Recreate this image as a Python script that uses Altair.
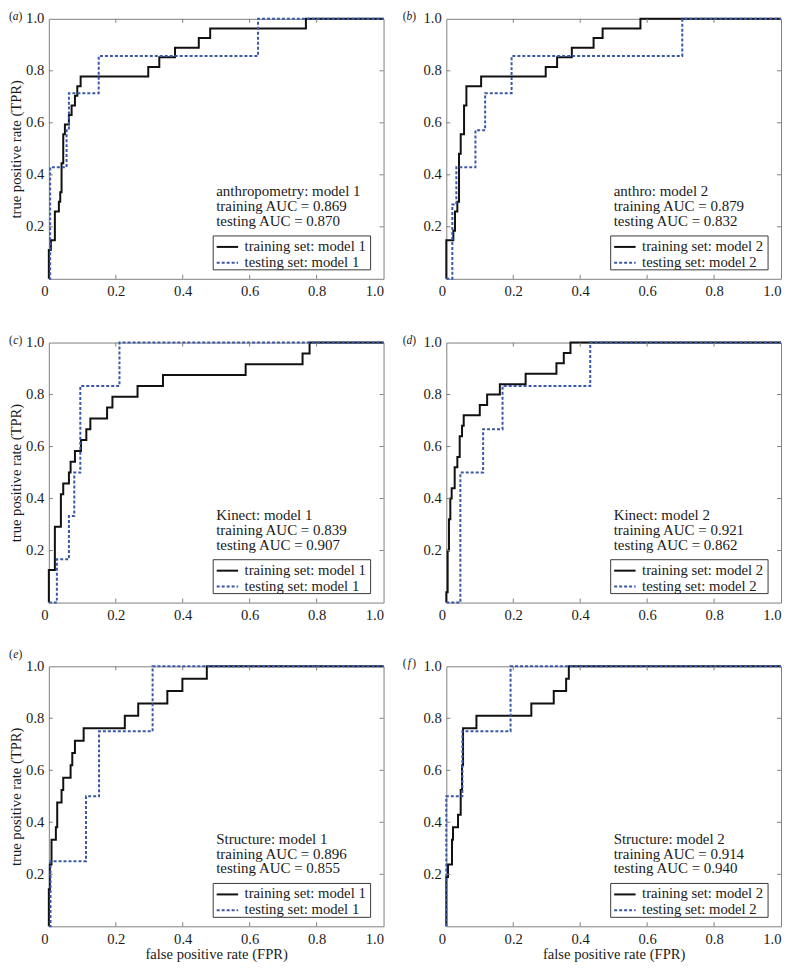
import altair as alt
import pandas as pd

FONT = "Liberation Serif, Times New Roman, serif"
TEXT_COLOR = "#1a1a1a"
FRAME_COLOR = "#7f7f7f"
TRAIN_COLOR = "#111111"
TEST_COLOR = "#3a58a6"

W, H = 336, 261

PANEL_LETTERS = ["a", "b", "c", "d", "e", "f"]
PANEL_NAMES = ["anthropometry: model 1", "anthro: model 2", "Kinect: model 1",
               "Kinect: model 2", "Structure: model 1", "Structure: model 2"]
MODEL_NUMBERS = [1, 2, 1, 2, 1, 2]
TRAIN_AUC = ["0.869", "0.879", "0.839", "0.921", "0.896", "0.914"]
TEST_AUC = ["0.870", "0.832", "0.907", "0.862", "0.855", "0.940"]

X_TICKS = [0, 0.2, 0.4, 0.6, 0.8, 1.0]
Y_TICKS = [0.2, 0.4, 0.6, 0.8, 1.0]
INNER_TICKS = [0.2, 0.4, 0.6, 0.8]

# ROC step vertices (FPR where TPR rises, TPR after the rise)
A_TRAIN_FPR = [0, 0, 0.006, 0.018, 0.030, 0.034, 0.038, 0.043, 0.048, 0.060, 0.068, 0.078, 0.085, 0.095, 0.297, 0.330, 0.377, 0.448, 0.482, 0.768, 1.0]
A_TRAIN_TPR = [0, 0.111, 0.148, 0.259, 0.296, 0.333, 0.444, 0.556, 0.593, 0.630, 0.667, 0.704, 0.741, 0.778, 0.815, 0.852, 0.889, 0.926, 0.963, 1.0, 1.0]
A_TEST_FPR = [0, 0.004, 0.053, 0.060, 0.149, 0.625, 1.0]
A_TEST_TPR = [0, 0.429, 0.571, 0.714, 0.857, 1.0, 1.0]

B_TRAIN_FPR = [0, 0, 0.021, 0.026, 0.033, 0.038, 0.043, 0.053, 0.060, 0.104, 0.297, 0.331, 0.375, 0.440, 0.467, 0.580, 1.0]
B_TRAIN_TPR = [0, 0.148, 0.185, 0.259, 0.296, 0.481, 0.556, 0.667, 0.741, 0.778, 0.815, 0.852, 0.889, 0.926, 0.963, 1.0, 1.0]
B_TEST_FPR = [0, 0.018, 0.030, 0.087, 0.116, 0.195, 0.705, 1.0]
B_TEST_TPR = [0, 0.286, 0.429, 0.571, 0.714, 0.857, 1.0, 1.0]

C_TRAIN_FPR = [0, 0, 0.018, 0.036, 0.043, 0.060, 0.065, 0.078, 0.096, 0.112, 0.124, 0.174, 0.190, 0.265, 0.341, 0.588, 0.758, 0.779, 1.0]
C_TRAIN_TPR = [0, 0.125, 0.292, 0.417, 0.458, 0.500, 0.542, 0.583, 0.625, 0.667, 0.708, 0.750, 0.792, 0.833, 0.875, 0.917, 0.958, 1.0, 1.0]
C_TEST_FPR = [0, 0.024, 0.060, 0.076, 0.094, 0.211, 1.0]
C_TEST_TPR = [0, 0.167, 0.333, 0.500, 0.833, 1.0, 1.0]

D_TRAIN_FPR = [0, 0, 0.004, 0.008, 0.012, 0.016, 0.025, 0.033, 0.040, 0.047, 0.052, 0.100, 0.122, 0.160, 0.237, 0.329, 0.351, 0.371, 1.0]
D_TRAIN_TPR = [0, 0.04, 0.20, 0.32, 0.40, 0.44, 0.52, 0.56, 0.64, 0.68, 0.72, 0.76, 0.80, 0.84, 0.88, 0.92, 0.96, 1.0, 1.0]
D_TEST_FPR = [0, 0.042, 0.110, 0.168, 0.430, 1.0]
D_TEST_TPR = [0, 0.500, 0.667, 0.833, 1.0, 1.0]

E_TRAIN_FPR = [0, 0, 0.003, 0.008, 0.021, 0.025, 0.038, 0.043, 0.065, 0.070, 0.078, 0.104, 0.227, 0.267, 0.354, 0.399, 0.472, 1.0]
E_TRAIN_TPR = [0, 0.143, 0.238, 0.333, 0.381, 0.476, 0.524, 0.571, 0.619, 0.667, 0.714, 0.762, 0.810, 0.857, 0.905, 0.952, 1.0, 1.0]
E_TEST_FPR = [0, 0.005, 0.111, 0.150, 0.310, 1.0]
E_TEST_TPR = [0, 0.25, 0.50, 0.75, 1.0, 1.0]

F_TRAIN_FPR = [0, 0, 0.005, 0.017, 0.020, 0.035, 0.043, 0.047, 0.050, 0.090, 0.254, 0.321, 0.358, 0.366, 1.0]
F_TRAIN_TPR = [0, 0.190, 0.238, 0.333, 0.381, 0.429, 0.524, 0.619, 0.762, 0.810, 0.857, 0.905, 0.952, 1.0, 1.0]
F_TEST_FPR = [0, 0, 0.048, 0.192, 1.0]
F_TEST_TPR = [0, 0.5, 0.75, 1.0, 1.0]

TRAIN_FPR = [A_TRAIN_FPR, B_TRAIN_FPR, C_TRAIN_FPR, D_TRAIN_FPR, E_TRAIN_FPR, F_TRAIN_FPR]
TRAIN_TPR = [A_TRAIN_TPR, B_TRAIN_TPR, C_TRAIN_TPR, D_TRAIN_TPR, E_TRAIN_TPR, F_TRAIN_TPR]
TEST_FPR = [A_TEST_FPR, B_TEST_FPR, C_TEST_FPR, D_TEST_FPR, E_TEST_FPR, F_TEST_FPR]
TEST_TPR = [A_TEST_TPR, B_TEST_TPR, C_TEST_TPR, D_TEST_TPR, E_TEST_TPR, F_TEST_TPR]

# style / placement constants (pixels, relative to each plot area)
LETTER_DY = [-2.25, -2.25, -2, -2, -11.5, -2]
LETTER_CX = [-33.3, -37]
ANNOT_X = 0.5 * W
ANNOT_Y = 178
BOX_X1, BOX_X2 = 165, 323
BOX_Y1, BOX_Y2 = H - 43, H - 9
ROW1_Y, ROW2_Y = H - 32, H - 16
SAMPLE_X1, SAMPLE_X2 = 168.5, 190
LABEL_X = 196.5
FS_AXIS = 14.7
FS_ANNOT = 15
FS_LEG = 14.75

one = pd.DataFrame({"k": [0]})


def make_panel(i):
    col, row = i % 2, i // 2
    xscale = alt.Scale(domain=[0, 1], nice=False, zero=False)
    yscale = alt.Scale(domain=[0, 1], nice=False, zero=False)
    x_axis = alt.Axis(
        values=X_TICKS,
        labelExpr="datum.value == 0 ? '0' : format(datum.value, '.1f')",
        labelOffset={"condition": {"test": "datum.value == 0", "value": -8}, "value": 0},
        labelPadding=5,
        titlePadding=1,
        title=("false positive rate (FPR)" if row == 2 else None),
    )
    y_axis = alt.Axis(
        values=Y_TICKS,
        format=".1f",
        labelPadding=5,
        titlePadding=2,
        title=("true positive rate (TPR)" if col == 0 else None),
    )

    train_df = pd.DataFrame({"fpr": TRAIN_FPR[i], "tpr": TRAIN_TPR[i],
                             "idx": list(range(len(TRAIN_FPR[i])))})
    test_df = pd.DataFrame({"fpr": TEST_FPR[i], "tpr": TEST_TPR[i],
                            "idx": list(range(len(TEST_FPR[i])))})

    enc = dict(x=alt.X("fpr:Q", scale=xscale, axis=x_axis),
               y=alt.Y("tpr:Q", scale=yscale, axis=y_axis),
               order=alt.Order("idx:Q"))
    train = alt.Chart(train_df).mark_line(interpolate="step-after", color=TRAIN_COLOR,
                                          strokeWidth=2).encode(**enc)
    test = alt.Chart(test_df).mark_line(interpolate="step-after", color=TEST_COLOR,
                                        strokeWidth=2, strokeDash=[3, 2]).encode(**enc)

    tick_df = pd.DataFrame({"v": INNER_TICKS})
    tick_mark = dict(color=FRAME_COLOR, strokeWidth=1)
    tx = alt.X("v:Q", scale=xscale, axis=x_axis)
    ty = alt.Y("v:Q", scale=yscale, axis=y_axis)
    t_bottom = alt.Chart(tick_df).mark_rule(**tick_mark).encode(x=tx, y=alt.value(H), y2=alt.value(H - 4))
    t_top = alt.Chart(tick_df).mark_rule(**tick_mark).encode(x=tx, y=alt.value(0), y2=alt.value(4))
    t_left = alt.Chart(tick_df).mark_rule(**tick_mark).encode(y=ty, x=alt.value(0), x2=alt.value(4))
    t_right = alt.Chart(tick_df).mark_rule(**tick_mark).encode(y=ty, x=alt.value(W), x2=alt.value(W - 4))

    annot_text = "\n".join([PANEL_NAMES[i],
                            "training AUC = " + TRAIN_AUC[i],
                            "testing AUC = " + TEST_AUC[i]])
    annot = alt.Chart(pd.DataFrame({"t": [annot_text]})).mark_text(
        align="left", baseline="alphabetic", lineBreak="\n", lineHeight=15,
        font=FONT, fontSize=FS_ANNOT, color=TEXT_COLOR
    ).encode(text="t:N", x=alt.value(ANNOT_X), y=alt.value(ANNOT_Y))

    box = alt.Chart(one).mark_rect(fill="white", stroke="#3a3a3a", strokeWidth=1).encode(
        x=alt.value(BOX_X1), x2=alt.value(BOX_X2), y=alt.value(BOX_Y1), y2=alt.value(BOX_Y2))
    s_train = alt.Chart(one).mark_rule(color=TRAIN_COLOR, strokeWidth=2).encode(
        x=alt.value(SAMPLE_X1), x2=alt.value(SAMPLE_X2), y=alt.value(ROW1_Y))
    s_test = alt.Chart(one).mark_rule(color=TEST_COLOR, strokeWidth=2, strokeDash=[3, 2]).encode(
        x=alt.value(SAMPLE_X1), x2=alt.value(SAMPLE_X2), y=alt.value(ROW2_Y))
    leg_df = pd.DataFrame({"lab": ["training set: model %d" % MODEL_NUMBERS[i],
                                   "testing set: model %d" % MODEL_NUMBERS[i]]})
    leg_text_style = dict(align="left", baseline="middle", font=FONT, fontSize=FS_LEG, color=TEXT_COLOR)
    l_train = alt.Chart(leg_df.iloc[[0]]).mark_text(**leg_text_style).encode(
        text="lab:N", x=alt.value(LABEL_X), y=alt.value(ROW1_Y))
    l_test = alt.Chart(leg_df.iloc[[1]]).mark_text(**leg_text_style).encode(
        text="lab:N", x=alt.value(LABEL_X), y=alt.value(ROW2_Y))

    cx = LETTER_CX[col]
    cy = LETTER_DY[i]
    lstyle = dict(baseline="middle", font=FONT, fontSize=11.5, color=TEXT_COLOR)
    p_open = alt.Chart(one).mark_text(align="right", **lstyle).encode(
        text=alt.value("("), x=alt.value(cx - 2.8), y=alt.value(cy))
    p_letter = alt.Chart(one).mark_text(align="center", fontStyle="italic", **lstyle).encode(
        text=alt.value(PANEL_LETTERS[i]), x=alt.value(cx), y=alt.value(cy))
    p_close = alt.Chart(one).mark_text(align="left", **lstyle).encode(
        text=alt.value(")"), x=alt.value(cx + 2.8), y=alt.value(cy))

    return alt.layer(train, test, t_bottom, t_top, t_left, t_right, annot,
                     box, s_train, s_test, l_train, l_test,
                     p_open, p_letter, p_close).properties(width=W, height=H)


panels = [make_panel(i) for i in range(6)]

chart = alt.concat(*panels, columns=2, spacing={"row": 64, "column": 63}, bounds="flush").properties(
    padding=0
).configure_view(
    stroke=FRAME_COLOR, strokeWidth=1
).configure_axis(
    labelFont=FONT, labelFontSize=FS_AXIS, labelColor=TEXT_COLOR,
    titleFont=FONT, titleFontSize=FS_AXIS, titleFontWeight="normal", titleColor=TEXT_COLOR,
    domain=False, ticks=False, grid=False
)

chart.save("out.html", embed_options={"renderer": "svg", "actions": False})
